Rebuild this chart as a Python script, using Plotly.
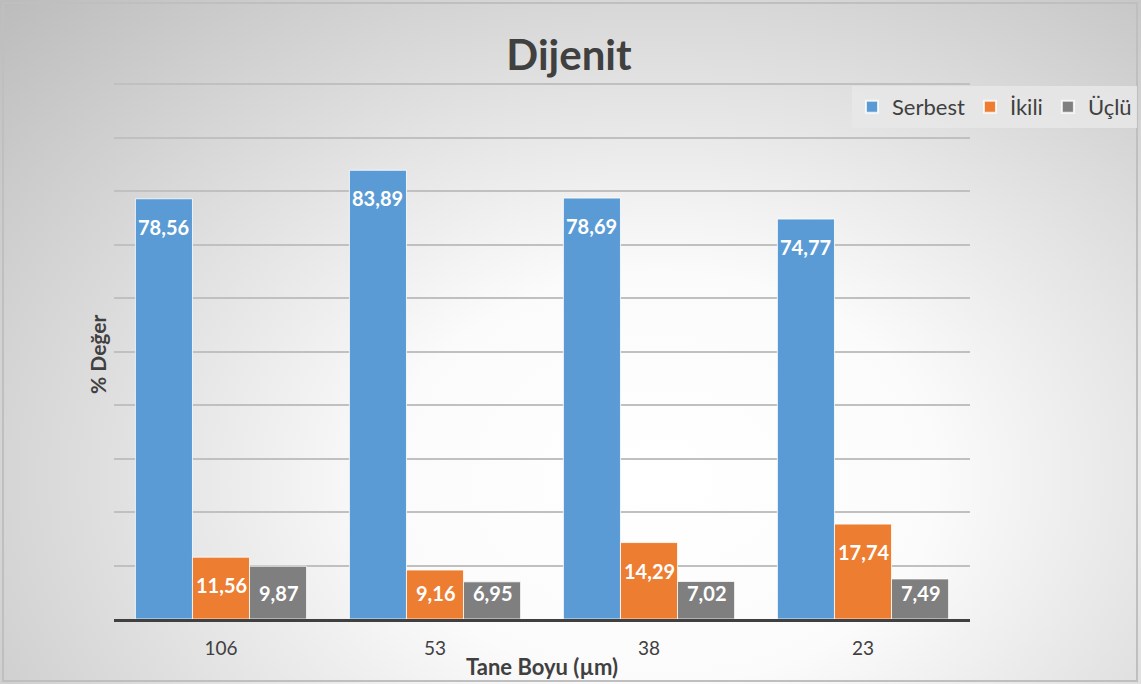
import base64
import plotly.graph_objects as go

categories = ["106", "53", "38", "23"]
series_names = ["Serbest", "İkili", "Üçlü"]
serbest = [78.56, 83.89, 78.69, 74.77]
ikili = [11.56, 9.16, 14.29, 17.74]
uclu = [9.87, 6.95, 7.02, 7.49]
colors = ["#5b9bd5", "#ed7d31", "#7f7f7f"]

series_values = [serbest, ikili, uclu]

W, H = 1141, 684
L, R, T, B = 114, 171, 83, 65
pw, ph = W - L - R, H - T - B
YMAX = 100.2
px_per_unit = ph / YMAX

svg = f"""<svg xmlns='http://www.w3.org/2000/svg' width='{W}' height='{H}' viewBox='0 0 {W} {H}' preserveAspectRatio='none'>
<defs><radialGradient id='g' cx='0.58' cy='0.7' r='0.8' gradientTransform='translate(0.58 0.7) scale(1 1.25) translate(-0.58 -0.7)'>
<stop offset='0' stop-color='#ffffff'/><stop offset='0.3' stop-color='#fbfbfb'/><stop offset='1' stop-color='#bcbcbc'/></radialGradient></defs>
<rect width='{W}' height='{H}' fill='url(#g)'/></svg>"""
src = "data:image/svg+xml;base64," + base64.b64encode(svg.encode()).decode()

fig = go.Figure()
for name, vals, col in zip(series_names, series_values, colors):
    fig.add_trace(go.Bar(
        x=categories, y=vals, name=name,
        marker=dict(color=col, line=dict(color="rgba(255,255,255,0.8)", width=1)),
    ))

font_family = "Lato, 'Open Sans', sans-serif"
ann = []
n = len(series_names)
group = 0.8
for j, vals in enumerate(series_values):
    off = (j - (n - 1) / 2) * group / n
    for i, v in enumerate(vals):
        shift = min(28, v * px_per_unit - 26)
        ann.append(dict(
            x=i + off, y=v, xref="x", yref="y",
            text=f"{v:.2f}".replace(".", ","), showarrow=False,
            yanchor="middle", yshift=-shift,
            font=dict(family=font_family, size=20, color="white", weight="bold"),
        ))

ann.append(dict(x=0.5, y=-(47 / ph), xref="paper", yref="paper", text="Tane Boyu (µm)",
                showarrow=False, yanchor="middle",
                font=dict(family=font_family, size=22, color="#404040", weight="bold")))
ann.append(dict(x=-(17 / pw), y=(619 - 355) / ph, xref="paper", yref="paper", text="% Değer",
                showarrow=False, textangle=-90, xanchor="center", yanchor="middle",
                font=dict(family=font_family, size=21, color="#404040", weight="bold")))

fig.update_layout(
    width=W, height=H, autosize=False,
    margin=dict(l=L, r=R, t=T, b=B, autoexpand=False),
    paper_bgcolor="white", plot_bgcolor="rgba(0,0,0,0)",
    images=[dict(source=src, xref="paper", yref="paper", x=-L / pw, y=1 + T / ph,
                 sizex=W / pw, sizey=H / ph, sizing="stretch", layer="below",
                 xanchor="left", yanchor="top")],
    title=dict(text="<b>Dijenit</b>", x=(569) / W, xanchor="center", y=1 - 55 / H, yanchor="middle",
               font=dict(family=font_family, size=42, color="#404040")),
    barmode="group", bargap=0.2, bargroupgap=0,
    font=dict(family=font_family, color="#404040"),
    legend=dict(orientation="h", xref="container", yref="container",
                x=1137 / W, xanchor="right", y=1 - 86 / H, yanchor="top",
                bgcolor="rgba(232,232,232,0.85)", font=dict(size=22, color="#404040"),
                itemsizing="constant", tracegroupgap=0),
    xaxis=dict(showline=True, linecolor="#404040", linewidth=3, ticks="", showgrid=False,
               tickfont=dict(size=19, color="#404040"), ticklabelstandoff=10),
    yaxis=dict(range=[0, YMAX], dtick=10, showgrid=True, gridcolor="#c0c0c0", gridwidth=1.5,
               showticklabels=False, zeroline=False, showline=False, ticks=""),
    annotations=ann,
    shapes=[dict(type="rect", xref="paper", yref="paper", x0=-(L - 3) / pw, x1=(1137 - L) / pw,
                 y0=-(B - 3) / ph, y1=1 + (T - 3) / ph, line=dict(color="#bfbfbf", width=2),
                 fillcolor="rgba(0,0,0,0)", layer="above")],
)

fig.write_html(
    "out.html",
    config={"displayModeBar": False},
    post_script="document.body.style.margin='0';document.body.style.overflow='hidden';",
)
